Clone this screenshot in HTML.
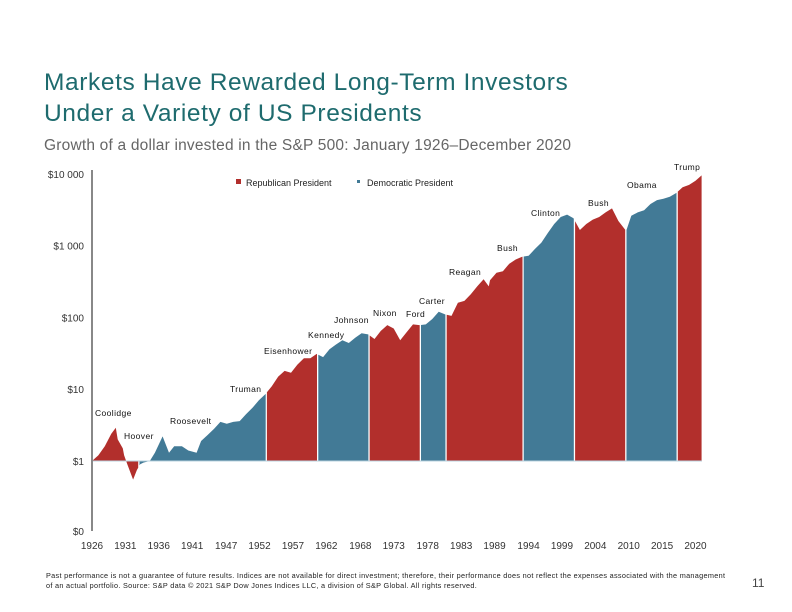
<!DOCTYPE html>
<html><head><meta charset="utf-8">
<style>
body{margin:0;background:#fff;font-family:"Liberation Sans",sans-serif;}
#wrap{position:relative;width:792px;height:612px;overflow:hidden;}
.t{position:absolute;white-space:nowrap;}
</style></head><body>
<div id="wrap">
<div class="t" style="left:44px;top:67px;font-size:24.5px;line-height:31px;color:#1e6b6e;letter-spacing:0.6px">Markets Have Rewarded Long-Term Investors<br>Under a Variety of US Presidents</div>
<div class="t" style="left:44px;top:137px;font-size:15.5px;color:#666;letter-spacing:0.2px">Growth of a dollar invested in the S&amp;P 500: January 1926–December 2020</div>
<svg id="chart" width="792" height="612" style="position:absolute;left:0;top:0"></svg>
<div class="t" style="left:46px;top:571px;font-size:7.3px;line-height:10px;color:#222;letter-spacing:0.3px">Past performance is not a guarantee of future results. Indices are not available for direct investment; therefore, their performance does not reflect the expenses associated with the management<br>of an actual portfolio. Source: S&amp;P data © 2021 S&amp;P Dow Jones Indices LLC, a division of S&amp;P Global. All rights reserved.</div>
<div class="t" style="left:752px;top:576px;font-size:12px;color:#444">11</div>
</div>
<script>
const years=[1926,1927,1928,1929,1929.7,1930,1930.8,1931,1931.5,1932.4,1933,1933.5,1934,1935,1935.8,1937,1938,1938.8,1940,1941,1942.3,1943,1944,1945,1946,1947,1948,1949,1950,1951,1952,1953,1954,1955,1956,1957,1958,1959,1960,1961,1962,1963,1964,1965,1966,1967,1968,1969,1970,1971,1972,1973,1974,1975,1976,1977,1978,1979,1980,1981,1982,1983,1984,1985,1986,1987,1987.8,1988,1989,1990,1991,1992,1993,1994,1995,1996,1997,1998,1999,2000,2001,2002,2003,2004,2005,2006,2007,2008,2009.2,2010,2011,2012,2013,2014,2015,2016,2017,2018,2019,2020,2020.95];
const values=[1.0,1.2,1.6,2.4,2.9,2.0,1.5,1.2,0.9,0.55,0.75,0.9,0.95,1.0,1.3,2.2,1.3,1.6,1.6,1.4,1.3,1.9,2.3,2.8,3.5,3.3,3.5,3.6,4.5,5.5,7.0,8.5,11,15,18,17,22,27,27,31,28,36,42,48,44,52,60,58,50,65,78,70,48,62,80,78,80,95,120,110,105,160,170,210,270,340,270,330,420,440,560,640,700,720,900,1100,1500,2000,2500,2700,2400,1650,2000,2300,2500,2900,3300,2200,1600,2600,2900,3100,3800,4300,4500,4800,5400,6500,7000,8000,9500];
const presNames=["Coolidge","Hoover","Roosevelt","Truman","Eisenhower","Kennedy","Johnson","Nixon","Ford","Carter","Reagan","Bush","Clinton","Bush","Obama","Trump"];
const presStart=[1926,1929.2,1933.2,1945.3,1953.05,1961.05,1963.9,1969.05,1974.6,1977.05,1981.05,1989.05,1993.05,2001.05,2009.05,2017.05];
const presParty=["R","R","D","D","R","D","D","R","R","D","R","R","D","R","D","R"];
const yTicks=[1,10,100,1000,10000];
const yTickLabels=["$1","$10","$100","$1 000","$10 000"];
const xTickLabels=["1926","1931","1936","1941","1947","1952","1957","1962","1968","1973","1978","1983","1989","1994","1999","2004","2010","2015","2020"];
const xTickYears=[1926,1931.2,1936.4,1941.6,1946.9,1952.1,1957.3,1962.5,1967.8,1973,1978.3,1983.5,1988.7,1994,1999.2,2004.4,2009.6,2014.8,2020];
const END=2020.95;
const svg=document.getElementById('chart');const NS='http://www.w3.org/2000/svg';
const x=yr=>92+(yr-1926)*6.42;
const y=v=>461-Math.log10(v)*71.8;
const RED='#b22f2c',BLUE='#427a96';
function mk(t,a){const e=document.createElementNS(NS,t);for(const k in a)e.setAttribute(k,a[k]);svg.appendChild(e);return e;}
function val(yr){for(let i=0;i<years.length-1;i++){if(yr>=years[i]&&yr<=years[i+1]){const f=(yr-years[i])/(years[i+1]-years[i]);return Math.pow(10,Math.log10(values[i])*(1-f)+Math.log10(values[i+1])*f);}}return values[values.length-1];}
const runs=[];
for(let i=0;i<presNames.length;i++){const s=presStart[i],e=i+1<presNames.length?presStart[i+1]:END;if(runs.length&&runs[runs.length-1].p===presParty[i])runs[runs.length-1].e=e;else runs.push({s:s,e:e,p:presParty[i]});}
runs.forEach((r,ri)=>{
  const s=r.s+(ri>0?0.2:0),e=r.e;
  let pts=[[s,val(s)]];years.forEach((yy,i)=>{if(yy>s&&yy<e)pts.push([yy,values[i]]);});pts.push([e,val(e)]);
  let d='M'+x(s)+','+y(1);pts.forEach(p=>d+=' L'+x(p[0]).toFixed(1)+','+y(p[1]).toFixed(1));d+=' L'+x(e)+','+y(1)+'Z';
  const el=mk('path',{d:d,fill:r.p==='R'?RED:BLUE});
  
  
});
const base=mk('line',{x1:92,x2:702,y1:y(1),y2:y(1),stroke:'#b9d3df','stroke-width':1});

const ax=mk('line',{x1:92,x2:92,y1:170,y2:531,stroke:'#888','stroke-width':2});

yTicks.forEach((v,i)=>{const t=mk('text',{x:84,y:y(v)+4,'text-anchor':'end','font-size':10,fill:'#333','font-family':'Liberation Sans'});t.textContent=yTickLabels[i];
});
const z=mk('text',{x:84,y:535,'text-anchor':'end','font-size':10,fill:'#333','font-family':'Liberation Sans'});z.textContent='$0';

xTickLabels.forEach((l,i)=>{const t=mk('text',{x:x(xTickYears[i]),y:549,'text-anchor':'middle','font-size':10,fill:'#333','font-family':'Liberation Sans'});t.textContent=l;
});
const l1=mk('rect',{x:236,y:179,width:5,height:5,fill:RED});
const l2=mk('rect',{x:357,y:180,width:3,height:3,fill:BLUE});
[['Republican President',246],['Democratic President',367]].forEach(a=>{const t=mk('text',{x:a[1],y:186,'font-size':9,fill:'#222','font-family':'Liberation Sans'});t.textContent=a[0];
});
const labs=[['Coolidge',95,416],['Hoover',124,439],['Roosevelt',170,424],['Truman',230,392],['Eisenhower',264,354],['Kennedy',308,338],['Johnson',334,323],['Nixon',373,316],['Ford',406,317],['Carter',419,304],['Reagan',449,275],['Bush',497,251],['Clinton',531,216],['Bush',588,206],['Obama',627,188],['Trump',674,170]];
labs.forEach(a=>{const t=mk('text',{x:a[1],y:a[2],'font-size':8.5,fill:'#111','font-family':'Liberation Sans','letter-spacing':'0.4'});t.textContent=a[0];
});
</script>
</body></html>
